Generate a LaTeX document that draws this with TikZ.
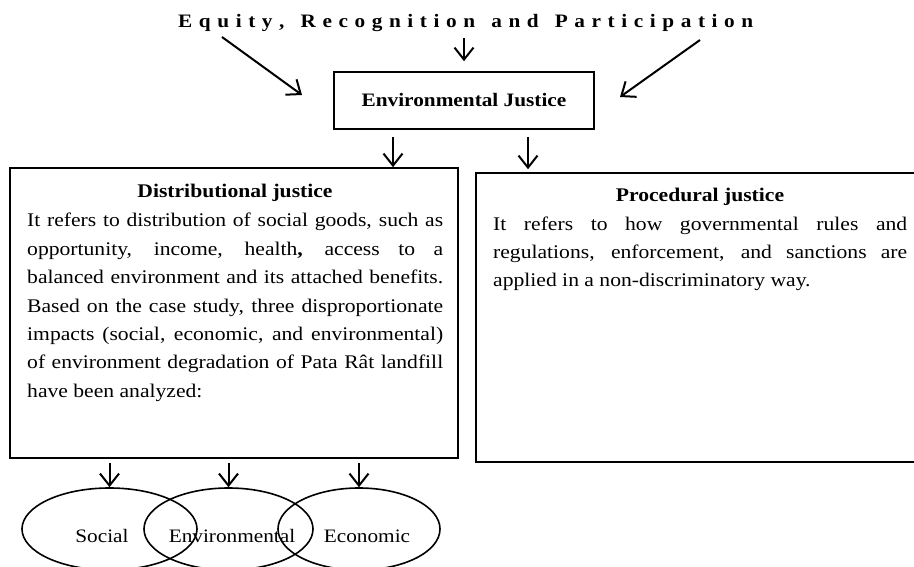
\documentclass[tikz,border=0pt]{standalone}
\usepackage{fontspec}
\setmainfont{Liberation Serif}[FakeStretch=1.12]
\usetikzlibrary{arrows.meta,shapes.geometric}
\newcommand\lsp{\hfil}
\newcommand\wsp{\hfil\hfil\kern3pt}
\begin{document}
\begin{tikzpicture}[x=1pt,y=-1pt,
  box/.style={draw, line width=1.6pt, inner sep=0pt, rectangle},
  arr/.style={-{Straight Barb[length=12pt,width=19pt,line width=2pt]}, line width=2pt},
  oval/.style={draw, ellipse, line width=1.6pt, inner sep=0pt},
  bodytxt/.style={font=\fontsize{19.3}{28.4}\selectfont, inner sep=0pt, align=justify, anchor=base west},
  headtxt/.style={font=\fontsize{19.3}{22}\selectfont\bfseries, inner sep=0pt, anchor=base},
  lbl/.style={font=\fontsize{19}{22}\selectfont, inner sep=0pt, anchor=base},
]
\useasboundingbox (0,0) rectangle (914,567);

% top title
\node[anchor=base west, inner sep=0pt, font=\fontsize{19}{22}\selectfont\bfseries] (title) at (178,28)
  {\makebox[575pt][s]{E\lsp q\lsp u\lsp i\lsp t\lsp y\lsp ,\wsp R\lsp e\lsp c\lsp o\lsp g\lsp n\lsp i\lsp t\lsp i\lsp o\lsp n\wsp a\lsp n\lsp d\wsp P\lsp a\lsp r\lsp t\lsp i\lsp c\lsp i\lsp p\lsp a\lsp t\lsp i\lsp o\lsp n}};

% environmental justice
\node[box, minimum width=260pt, minimum height=57pt, font=\fontsize{19}{22}\selectfont\bfseries] (ej) at (464,100.5) {Environmental Justice};

\coordinate (tl) at (222,37);
\coordinate (tle) at (302,95);
\coordinate (tr) at (700,40);
\coordinate (tre) at (620,97);
\draw[arr] (tl) -- (tle);
\draw[arr] (tr) -- (tre);
\draw[arr, shorten <=6pt, shorten >=10pt] (title.south -| ej.north) -- (ej.north);

% boxes
\node[box, minimum width=448pt, minimum height=290pt] (dist) at (234,313) {};
\node[box, minimum width=440pt, minimum height=289pt] (proc) at (696,317.5) {};

\draw[arr, shorten <=7pt] ([xshift=-71pt]ej.south) -- ([xshift=-71pt]ej.south |- dist.north);
\draw[arr, shorten <=7pt, shorten >=3pt] ([xshift=64pt]ej.south) -- ([xshift=64pt]ej.south |- proc.north);

% distributional text
\node[headtxt] (disth) at (235,198) {Distributional justice};
\node[bodytxt, text width=416pt] (distb) at (27,227) {It refers to distribution of social goods, such as\linebreak
opportunity, income, health{\bfseries,} access to a\linebreak
balanced environment and its attached benefits.\linebreak
Based on the case study, three disproportionate\linebreak
impacts (social, economic, and environmental)\linebreak
of environment degradation of Pata Rât landfill\linebreak
have been analyzed:};

% procedural text
\node[headtxt] (proch) at (700,202) {Procedural justice};
\node[bodytxt, text width=414pt] (procb) at (493,230) {It refers to how governmental rules and\linebreak
regulations, enforcement, and sanctions are\linebreak
applied in a non-discriminatory way.};

% ellipses
\node[oval, minimum width=175pt, minimum height=82pt] (soc) at (109.5,529) {};
\node[oval, minimum width=169pt, minimum height=82pt] (env) at (228.5,529) {};
\node[oval, minimum width=162pt, minimum height=82pt] (eco) at (359,529) {};
\node[lbl] (soct) at (102,542) {Social};
\node[lbl] (envt) at (232,542) {Environmental};
\node[lbl] (ecot) at (367,542) {Economic};

\draw[arr, shorten <=4pt] (dist.south -| soc.north) -- (soc.north);
\draw[arr, shorten <=4pt] (dist.south -| env.north) -- (env.north);
\draw[arr, shorten <=4pt] (dist.south -| eco.north) -- (eco.north);
\end{tikzpicture}
\end{document}
